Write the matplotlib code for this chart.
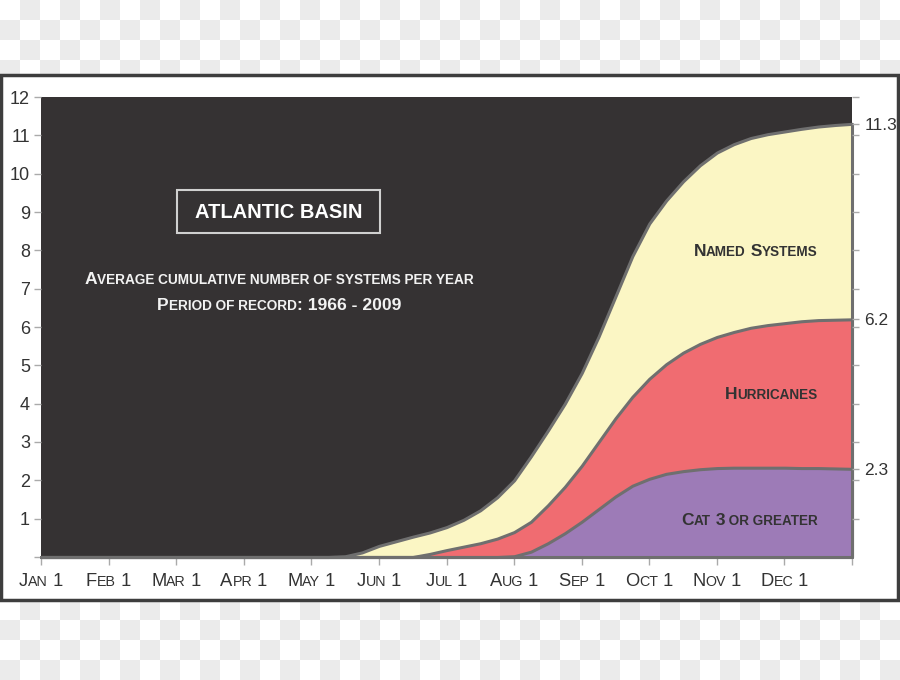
import matplotlib
matplotlib.use('Agg')
import matplotlib.pyplot as plt
from matplotlib.offsetbox import TextArea, HPacker, AnnotationBbox
from matplotlib.patches import Rectangle
import numpy as np

FONT = ['Liberation Sans', 'DejaVu Sans']
plt.rcParams['font.family'] = FONT

# months since Jan 1 (flat at zero before May 1, then quarter-month steps)
months = [0, 4, 4.25, 4.5, 4.75, 5, 5.25, 5.5, 5.75, 6, 6.25, 6.5, 6.75,
          7, 7.25, 7.5, 7.75, 8, 8.25, 8.5, 8.75, 9, 9.25, 9.5, 9.75,
          10, 10.25, 10.5, 10.75, 11, 11.25, 11.5, 11.75, 12]
named = [0, 0, 0, 0.02, 0.12, 0.29, 0.41, 0.53, 0.64, 0.78, 0.97, 1.22, 1.56,
         2.0, 2.63, 3.3, 4.0, 4.8, 5.75, 6.8, 7.85, 8.7, 9.3, 9.8, 10.22,
         10.55, 10.77, 10.93, 11.03, 11.1, 11.17, 11.23, 11.27, 11.3]
hurricanes = [0, 0, 0, 0, 0, 0, 0, 0, 0.08, 0.18, 0.27, 0.36, 0.48,
              0.65, 0.92, 1.35, 1.83, 2.38, 3.0, 3.62, 4.18, 4.65, 5.03, 5.33, 5.56,
              5.74, 5.87, 5.98, 6.05, 6.1, 6.15, 6.18, 6.19, 6.2]
cat3 = [0, 0, 0, 0, 0, 0, 0, 0, 0, 0, 0, 0, 0,
        0.02, 0.14, 0.36, 0.62, 0.92, 1.25, 1.58, 1.86, 2.04, 2.17, 2.24, 2.29,
        2.32, 2.33, 2.33, 2.33, 2.33, 2.32, 2.32, 2.31, 2.3]

month_labels = ['Jan 1', 'Feb 1', 'Mar 1', 'Apr 1', 'May 1', 'Jun 1',
                'Jul 1', 'Aug 1', 'Sep 1', 'Oct 1', 'Nov 1', 'Dec 1']
series_labels = ['Named Systems', 'Hurricanes', 'Cat 3 or greater']

BG = '#353233'
EDGE = '#6f6f6f'
TXT = '#333333'
colors = ['#fbf6c4', '#f06c71', '#9d7bb7']


def smallcaps(text, size, ratio=0.76, **props):
    """Pack text into small caps: lowercase letters become smaller capitals."""
    runs = []
    pending = ''
    for ch in text:
        if ch == ' ':
            pending += ch
            continue
        cls = 'small' if ch.islower() else 'big'
        piece = pending + ch.upper()
        pending = ''
        if runs and runs[-1][0] == cls:
            runs[-1][1] += piece
        else:
            runs.append([cls, piece])
    kids = []
    for cls, piece in runs:
        sz = size if cls == 'big' else size * ratio
        kids.append(TextArea(piece, textprops=dict(size=sz, family=FONT, **props)))
    return HPacker(children=kids, align='baseline', pad=0, sep=0)


fig = plt.figure(figsize=(9, 6.8), dpi=100)

# transparency checkerboard behind the framed chart
yy, xx = np.indices((680, 900))
chk = np.where(((yy // 20 + xx // 20) % 2) == 1, 0.925, 1.0)
fig.figimage(np.dstack([chk, chk, chk]), xo=0, yo=0, origin='upper', zorder=-3)
fig.patches.append(Rectangle((1 / 900, 1 - 600 / 680), 897 / 900, 525 / 680,
                             transform=fig.transFigure, facecolor='white',
                             edgecolor='#3d3d3d', linewidth=2.5, zorder=-2))

ax = fig.add_axes([41 / 900, 1 - 557 / 680, 811 / 900, 460 / 680])
ax.set_facecolor(BG)
ax.set_xlim(0, 12)
ax.set_ylim(0, 12)
for s in ax.spines.values():
    s.set_visible(False)

for vals, col in zip([named, hurricanes, cat3], colors):
    ax.fill_between(months, 0, vals, facecolor=col, edgecolor=EDGE,
                    linewidth=2.2, clip_on=False, zorder=2)

# left axis
ax.set_yticks(range(0, 13))
ax.set_yticklabels([''] + [str(i) for i in range(1, 13)])
ax.tick_params(axis='y', length=5, width=1, color='#aaaaaa', pad=3,
               labelsize=13, labelcolor=TXT)

# bottom axis with small caps month labels
ax.set_xticks(range(0, 13))
ax.set_xticklabels([])
ax.tick_params(axis='x', length=6, width=1, color='#aaaaaa')
for i, lab in enumerate(month_labels):
    box = smallcaps(lab, 13.2, ratio=0.78, color=TXT)
    ax.add_artist(AnnotationBbox(box, (i, 0), xycoords=('data', 'axes fraction'),
                                 xybox=(0, -17.5), boxcoords='offset points',
                                 frameon=False, pad=0, box_alignment=(0.5, 0.5),
                                 annotation_clip=False))

# right axis: final values
ax2 = ax.twinx()
ax2.set_ylim(0, 12)
for s in ax2.spines.values():
    s.set_visible(False)
finals = [named[-1], hurricanes[-1], cat3[-1]]
rticks = sorted(list(range(1, 13)) + finals)
ax2.set_yticks(rticks)
ax2.set_yticklabels([f'{v:.1f}' if v in finals else '' for v in rticks])
ax2.tick_params(axis='y', length=5, width=1, color='#aaaaaa', pad=4,
                labelsize=12.5, labelcolor=TXT)

# title box and subtitle
ax.add_patch(Rectangle((0.1677, 0.7043), 0.2503, 0.0935, transform=ax.transAxes,
                       facecolor='none', edgecolor='#d0d0d0', linewidth=1.5, zorder=3))
ax.text(0.2935, 0.75, 'ATLANTIC BASIN', transform=ax.transAxes, ha='center',
        va='center', color='white', fontsize=14.5, fontweight='bold', zorder=4)
for txt, yf in [('Average cumulative number of systems per year', 0.6043),
                ('Period of record: 1966 - 2009', 0.5457)]:
    box = smallcaps(txt, 12.6, ratio=0.78, color='#f2f2f2', weight='bold')
    ax.add_artist(AnnotationBbox(box, (0.2935, yf), xycoords='axes fraction',
                                 frameon=False, pad=0, box_alignment=(0.5, 0.5)))

# series labels
for lab, yf in zip(series_labels, [0.665, 0.354, 0.0804]):
    box = smallcaps(lab, 12.5, ratio=0.78, color=TXT, weight='bold')
    ax.add_artist(AnnotationBbox(box, (0.958, yf), xycoords='axes fraction',
                                 frameon=False, pad=0, box_alignment=(1, 0.5),
                                 zorder=5))

fig.savefig('out.png', dpi=100)
